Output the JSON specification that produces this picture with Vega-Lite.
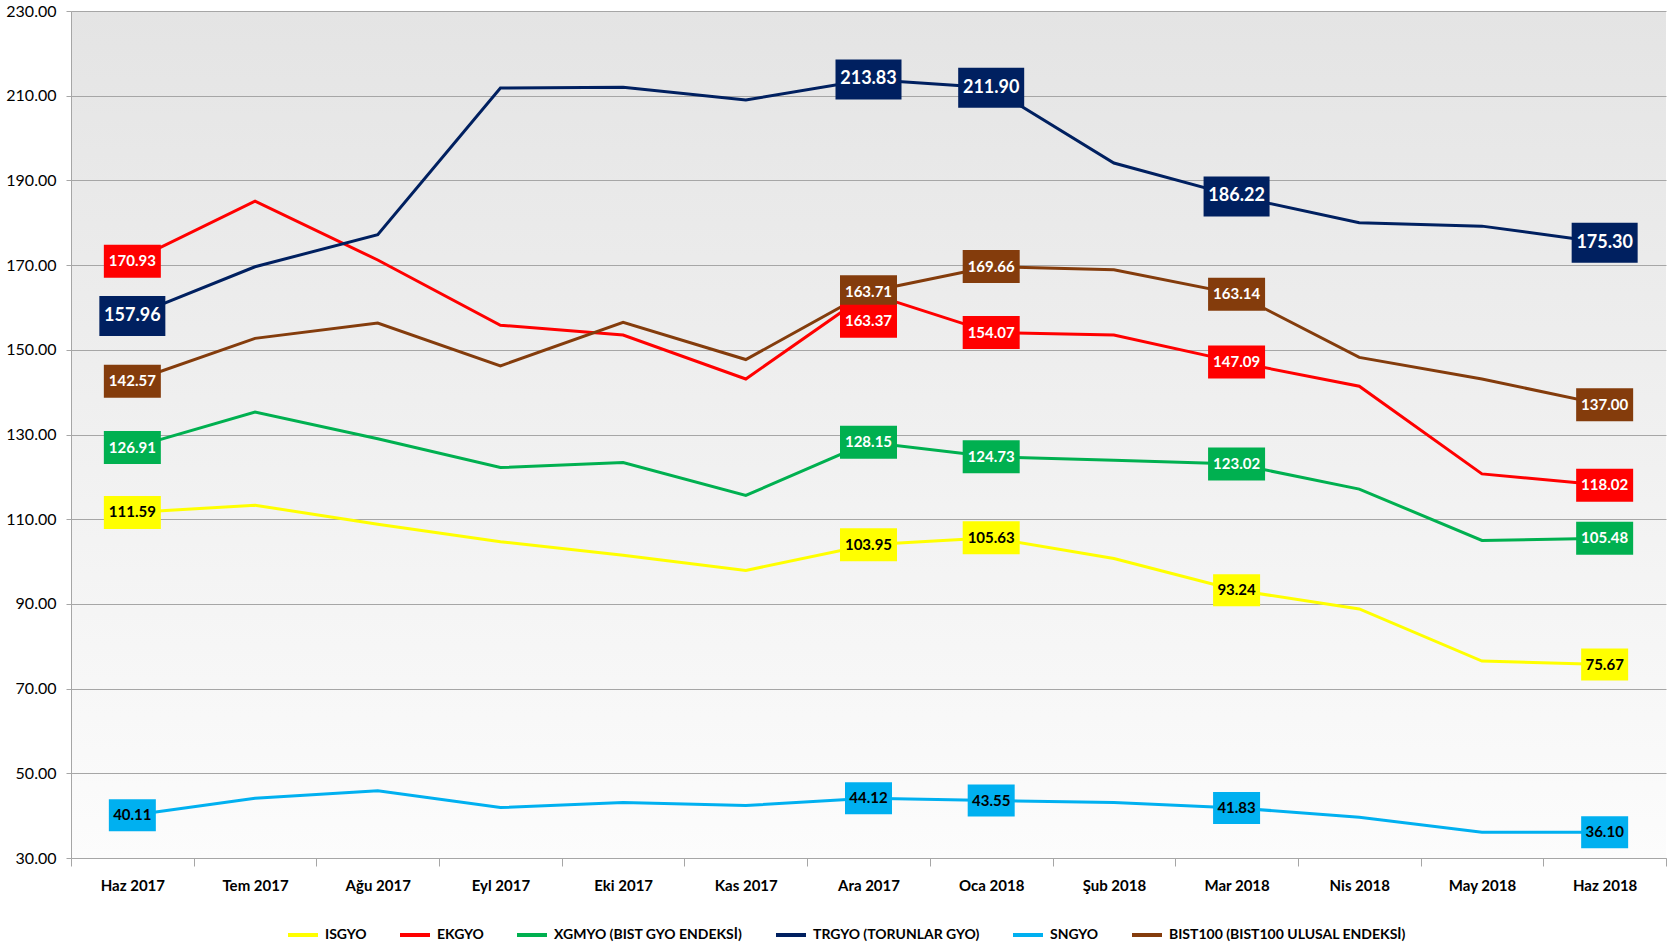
{
  "$schema": "https://vega.github.io/schema/vega-lite/v6.json",
  "autosize": "none",
  "width": 1595,
  "height": 847,
  "padding": {"left": 71, "top": 11, "right": 11, "bottom": 90},
  "background": "#ffffff",
  "config": {
    "font": "Lato",
    "view": {
      "stroke": null,
      "fill": {"gradient": "linear", "x1": 0, "y1": 0, "x2": 0, "y2": 1,
        "stops": [{"offset": 0, "color": "#e4e4e4"}, {"offset": 1, "color": "#fcfcfc"}]}
    }
  },
  "data": {"values": [
    {"m": "Haz 2017", "s": "ISGYO", "v": 111.59},
    {"m": "Tem 2017", "s": "ISGYO", "v": 113.3},
    {"m": "Ağu 2017", "s": "ISGYO", "v": 108.8},
    {"m": "Eyl 2017", "s": "ISGYO", "v": 104.7},
    {"m": "Eki 2017", "s": "ISGYO", "v": 101.5},
    {"m": "Kas 2017", "s": "ISGYO", "v": 97.9},
    {"m": "Ara 2017", "s": "ISGYO", "v": 103.95},
    {"m": "Oca 2018", "s": "ISGYO", "v": 105.63},
    {"m": "Şub 2018", "s": "ISGYO", "v": 100.7},
    {"m": "Mar 2018", "s": "ISGYO", "v": 93.24},
    {"m": "Nis 2018", "s": "ISGYO", "v": 88.8},
    {"m": "May 2018", "s": "ISGYO", "v": 76.5},
    {"m": "Haz 2018", "s": "ISGYO", "v": 75.67},
    {"m": "Haz 2017", "s": "EKGYO", "v": 170.93},
    {"m": "Tem 2017", "s": "EKGYO", "v": 185.1},
    {"m": "Ağu 2017", "s": "EKGYO", "v": 171.2},
    {"m": "Eyl 2017", "s": "EKGYO", "v": 155.8},
    {"m": "Eki 2017", "s": "EKGYO", "v": 153.5},
    {"m": "Kas 2017", "s": "EKGYO", "v": 143.1},
    {"m": "Ara 2017", "s": "EKGYO", "v": 163.37},
    {"m": "Oca 2018", "s": "EKGYO", "v": 154.07},
    {"m": "Şub 2018", "s": "EKGYO", "v": 153.5},
    {"m": "Mar 2018", "s": "EKGYO", "v": 147.09},
    {"m": "Nis 2018", "s": "EKGYO", "v": 141.4},
    {"m": "May 2018", "s": "EKGYO", "v": 120.7},
    {"m": "Haz 2018", "s": "EKGYO", "v": 118.02},
    {"m": "Haz 2017", "s": "XGMYO (BIST GYO ENDEKSİ)", "v": 126.91},
    {"m": "Tem 2017", "s": "XGMYO (BIST GYO ENDEKSİ)", "v": 135.3},
    {"m": "Ağu 2017", "s": "XGMYO (BIST GYO ENDEKSİ)", "v": 129.0},
    {"m": "Eyl 2017", "s": "XGMYO (BIST GYO ENDEKSİ)", "v": 122.2},
    {"m": "Eki 2017", "s": "XGMYO (BIST GYO ENDEKSİ)", "v": 123.4},
    {"m": "Kas 2017", "s": "XGMYO (BIST GYO ENDEKSİ)", "v": 115.6},
    {"m": "Ara 2017", "s": "XGMYO (BIST GYO ENDEKSİ)", "v": 128.15},
    {"m": "Oca 2018", "s": "XGMYO (BIST GYO ENDEKSİ)", "v": 124.73},
    {"m": "Şub 2018", "s": "XGMYO (BIST GYO ENDEKSİ)", "v": 123.9},
    {"m": "Mar 2018", "s": "XGMYO (BIST GYO ENDEKSİ)", "v": 123.02},
    {"m": "Nis 2018", "s": "XGMYO (BIST GYO ENDEKSİ)", "v": 117.1},
    {"m": "May 2018", "s": "XGMYO (BIST GYO ENDEKSİ)", "v": 105.0},
    {"m": "Haz 2018", "s": "XGMYO (BIST GYO ENDEKSİ)", "v": 105.48},
    {"m": "Haz 2017", "s": "TRGYO (TORUNLAR GYO)", "v": 157.96},
    {"m": "Tem 2017", "s": "TRGYO (TORUNLAR GYO)", "v": 169.6},
    {"m": "Ağu 2017", "s": "TRGYO (TORUNLAR GYO)", "v": 177.2},
    {"m": "Eyl 2017", "s": "TRGYO (TORUNLAR GYO)", "v": 211.8},
    {"m": "Eki 2017", "s": "TRGYO (TORUNLAR GYO)", "v": 212.0},
    {"m": "Kas 2017", "s": "TRGYO (TORUNLAR GYO)", "v": 209.0},
    {"m": "Ara 2017", "s": "TRGYO (TORUNLAR GYO)", "v": 213.83},
    {"m": "Oca 2018", "s": "TRGYO (TORUNLAR GYO)", "v": 211.9},
    {"m": "Şub 2018", "s": "TRGYO (TORUNLAR GYO)", "v": 194.1},
    {"m": "Mar 2018", "s": "TRGYO (TORUNLAR GYO)", "v": 186.22},
    {"m": "Nis 2018", "s": "TRGYO (TORUNLAR GYO)", "v": 180.0},
    {"m": "May 2018", "s": "TRGYO (TORUNLAR GYO)", "v": 179.2},
    {"m": "Haz 2018", "s": "TRGYO (TORUNLAR GYO)", "v": 175.3},
    {"m": "Haz 2017", "s": "SNGYO", "v": 40.11},
    {"m": "Tem 2017", "s": "SNGYO", "v": 44.1},
    {"m": "Ağu 2017", "s": "SNGYO", "v": 45.9},
    {"m": "Eyl 2017", "s": "SNGYO", "v": 41.9},
    {"m": "Eki 2017", "s": "SNGYO", "v": 43.1},
    {"m": "Kas 2017", "s": "SNGYO", "v": 42.4},
    {"m": "Ara 2017", "s": "SNGYO", "v": 44.12},
    {"m": "Oca 2018", "s": "SNGYO", "v": 43.55},
    {"m": "Şub 2018", "s": "SNGYO", "v": 43.1},
    {"m": "Mar 2018", "s": "SNGYO", "v": 41.83},
    {"m": "Nis 2018", "s": "SNGYO", "v": 39.6},
    {"m": "May 2018", "s": "SNGYO", "v": 36.1},
    {"m": "Haz 2018", "s": "SNGYO", "v": 36.1},
    {"m": "Haz 2017", "s": "BIST100 (BIST100 ULUSAL ENDEKSİ)", "v": 142.57},
    {"m": "Tem 2017", "s": "BIST100 (BIST100 ULUSAL ENDEKSİ)", "v": 152.7},
    {"m": "Ağu 2017", "s": "BIST100 (BIST100 ULUSAL ENDEKSİ)", "v": 156.3},
    {"m": "Eyl 2017", "s": "BIST100 (BIST100 ULUSAL ENDEKSİ)", "v": 146.2},
    {"m": "Eki 2017", "s": "BIST100 (BIST100 ULUSAL ENDEKSİ)", "v": 156.5},
    {"m": "Kas 2017", "s": "BIST100 (BIST100 ULUSAL ENDEKSİ)", "v": 147.7},
    {"m": "Ara 2017", "s": "BIST100 (BIST100 ULUSAL ENDEKSİ)", "v": 163.71},
    {"m": "Oca 2018", "s": "BIST100 (BIST100 ULUSAL ENDEKSİ)", "v": 169.66},
    {"m": "Şub 2018", "s": "BIST100 (BIST100 ULUSAL ENDEKSİ)", "v": 168.9},
    {"m": "Mar 2018", "s": "BIST100 (BIST100 ULUSAL ENDEKSİ)", "v": 163.14},
    {"m": "Nis 2018", "s": "BIST100 (BIST100 ULUSAL ENDEKSİ)", "v": 148.2},
    {"m": "May 2018", "s": "BIST100 (BIST100 ULUSAL ENDEKSİ)", "v": 143.1},
    {"m": "Haz 2018", "s": "BIST100 (BIST100 ULUSAL ENDEKSİ)", "v": 137.0}
  ]},
  "encoding": {
    "x": {"field": "m", "type": "nominal", "sort": null,
      "scale": {"type": "band", "paddingInner": 0, "paddingOuter": 0},
      "axis": {"title": null, "labelAngle": 0, "labelFontSize": 15, "labelFontWeight": "bold", "labelColor": "#000000",
        "tickBand": "extent", "tickSize": 8, "tickColor": "#a6a6a6", "domainColor": "#a6a6a6", "labelPadding": 12, "grid": false}},
    "y": {"field": "v", "type": "quantitative",
      "scale": {"domain": [30, 230], "nice": false, "zero": false},
      "axis": {"title": null, "values": [30, 50, 70, 90, 110, 130, 150, 170, 190, 210, 230], "format": ".2f",
        "labelFontSize": 16, "labelColor": "#000000", "grid": true, "gridColor": "#a6a6a6", "gridWidth": 1,
        "domainColor": "#a6a6a6", "tickColor": "#a6a6a6", "tickSize": 5, "labelPadding": 10}}
  },
  "layer": [
    {
      "mark": {"type": "line", "strokeWidth": 3},
      "encoding": {
        "color": {"field": "s", "type": "nominal",
          "scale": {"domain": ["ISGYO", "EKGYO", "XGMYO (BIST GYO ENDEKSİ)", "TRGYO (TORUNLAR GYO)", "SNGYO", "BIST100 (BIST100 ULUSAL ENDEKSİ)"],
            "range": ["#FFFF00", "#FF0000", "#00B050", "#002060", "#00B0F0", "#843C0C"]},
          "legend": {"orient": "none", "legendX": 215, "legendY": 907, "direction": "horizontal", "title": null,
            "symbolType": "stroke", "symbolSize": 900, "symbolStrokeWidth": 4, "labelFontSize": 14, "labelFontWeight": "bold",
            "labelColor": "#000000", "columnPadding": 25, "labelOffset": 5, "labelLimit": 0}}
      }
    },
    {
      "transform": [{"filter": "indexof(['Haz 2017','Ara 2017','Oca 2018','Mar 2018','Haz 2018'], datum.m) >= 0 && datum.v >= 100 && datum.s !== 'TRGYO (TORUNLAR GYO)' && !(datum.s === 'EKGYO' && datum.m === 'Ara 2017')"}],
      "mark": {"type": "point", "shape": "M-28.5,-16.5h57v33h-57z", "size": 4, "filled": true, "opacity": 1, "strokeWidth": 0},
      "encoding": {"fill": {"field": "s", "type": "nominal", "legend": null,
        "scale": {"domain": ["ISGYO", "EKGYO", "XGMYO (BIST GYO ENDEKSİ)", "TRGYO (TORUNLAR GYO)", "SNGYO", "BIST100 (BIST100 ULUSAL ENDEKSİ)"],
          "range": ["#FFFF00", "#FF0000", "#00B050", "#002060", "#00B0F0", "#843C0C"]}}}
    },
    {
      "transform": [{"filter": "datum.s === 'EKGYO' && datum.m === 'Ara 2017'"}],
      "mark": {"type": "point", "shape": "M-28.5,-16.5h57v33h-57z", "size": 4, "filled": true, "opacity": 1, "strokeWidth": 0, "yOffset": 28},
      "encoding": {"fill": {"field": "s", "type": "nominal", "legend": null}}
    },
    {
      "transform": [{"filter": "indexof(['Haz 2017','Ara 2017','Oca 2018','Mar 2018','Haz 2018'], datum.m) >= 0 && datum.v < 100"}],
      "mark": {"type": "point", "shape": "M-23.5,-16h47v32h-47z", "size": 4, "filled": true, "opacity": 1, "strokeWidth": 0},
      "encoding": {"fill": {"field": "s", "type": "nominal", "legend": null}}
    },
    {
      "transform": [{"filter": "indexof(['Haz 2017','Ara 2017','Oca 2018','Mar 2018','Haz 2018'], datum.m) >= 0 && datum.s === 'TRGYO (TORUNLAR GYO)'"}],
      "mark": {"type": "point", "shape": "M-33,-20h66v40h-66z", "size": 4, "filled": true, "opacity": 1, "strokeWidth": 0},
      "encoding": {"fill": {"field": "s", "type": "nominal", "legend": null}}
    },
    {
      "transform": [{"filter": "indexof(['Haz 2017','Ara 2017','Oca 2018','Mar 2018','Haz 2018'], datum.m) >= 0 && !(datum.s === 'EKGYO' && datum.m === 'Ara 2017')"}],
      "mark": {"type": "text", "align": "center", "baseline": "middle", "fontWeight": "bold"},
      "encoding": {
        "text": {"field": "v", "type": "quantitative", "format": ".2f"},
        "color": {"condition": {"test": "datum.s === 'ISGYO' || datum.s === 'SNGYO'", "value": "#000000"}, "value": "#ffffff"},
        "size": {"condition": {"test": "datum.s === 'TRGYO (TORUNLAR GYO)'", "value": 18}, "value": 15}
      }
    },
    {
      "transform": [{"filter": "datum.s === 'EKGYO' && datum.m === 'Ara 2017'"}],
      "mark": {"type": "text", "align": "center", "baseline": "middle", "fontWeight": "bold", "fontSize": 15, "color": "#ffffff", "yOffset": 28},
      "encoding": {
        "text": {"field": "v", "type": "quantitative", "format": ".2f"}
      }
    }
  ]
}
